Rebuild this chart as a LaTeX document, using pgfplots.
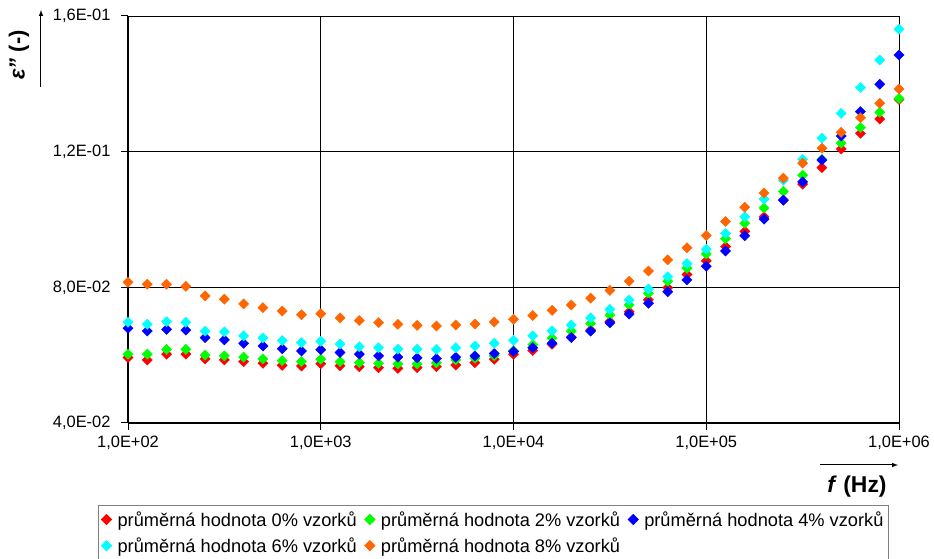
\documentclass[border=0pt]{standalone}
\usepackage{fontspec}
\setmainfont{Liberation Sans}
\usepackage{pgfplots}
\pgfplotsset{compat=1.18}
\usepackage{pgfplotstable}
\definecolor{cR}{RGB}{255,0,0}
\definecolor{cG}{RGB}{0,255,0}
\definecolor{cB}{RGB}{0,0,255}
\definecolor{cC}{RGB}{0,255,255}
\definecolor{cO}{RGB}{255,102,0}
\pgfplotstableread{
f r g b c o
100 0.0593 0.0603 0.0679 0.0697 0.0815
125.89 0.0586 0.0603 0.0671 0.0691 0.0809
158.49 0.0603 0.0617 0.0676 0.0699 0.0809
199.53 0.0603 0.0617 0.0674 0.0697 0.0803
251.19 0.0589 0.0600 0.0652 0.0671 0.0775
316.23 0.0586 0.0598 0.0645 0.0669 0.0765
398.11 0.0581 0.0594 0.0635 0.0657 0.0751
501.19 0.0576 0.0589 0.0627 0.0651 0.0740
630.96 0.0570 0.0584 0.0619 0.0643 0.0730
794.33 0.0568 0.0581 0.0612 0.0637 0.0719
1000 0.0575 0.0588 0.0616 0.0641 0.0722
1258.9 0.0569 0.0581 0.0608 0.0633 0.0710
1584.9 0.0566 0.0578 0.0603 0.0625 0.0702
1995.3 0.0563 0.0576 0.0598 0.0622 0.0696
2511.9 0.0561 0.0574 0.0594 0.0618 0.0691
3162.3 0.0563 0.0574 0.0592 0.0618 0.0688
3981.1 0.0566 0.0577 0.0590 0.0617 0.0686
5011.9 0.0571 0.0586 0.0594 0.0622 0.0689
6309.6 0.0578 0.0591 0.0598 0.0627 0.0692
7943.3 0.0588 0.0598 0.0605 0.0635 0.0698
10000 0.0603 0.0613 0.0611 0.0644 0.0706
12589 0.0614 0.0631 0.0622 0.0657 0.0717
15849 0.0632 0.0650 0.0635 0.0672 0.0732
19953 0.0653 0.0671 0.0652 0.0689 0.0748
25119 0.0674 0.0693 0.0671 0.0710 0.0768
31623 0.0699 0.0718 0.0695 0.0735 0.0791
39811 0.0728 0.0748 0.0721 0.0763 0.0818
50119 0.0763 0.0782 0.0753 0.0795 0.0848
63096 0.0799 0.0818 0.0787 0.0831 0.0881
79433 0.0838 0.0856 0.0822 0.0870 0.0917
100000 0.0878 0.0898 0.0862 0.0912 0.0953
125893 0.0920 0.0943 0.0907 0.0959 0.0994
158489 0.0965 0.0989 0.0952 0.1008 0.1036
199526 0.1008 0.1034 0.1001 0.1060 0.1078
251189 0.1057 0.1083 0.1057 0.1116 0.1122
316228 0.1104 0.1131 0.1111 0.1177 0.1166
398107 0.1153 0.1177 0.1175 0.1240 0.1210
501187 0.1208 0.1225 0.1246 0.1313 0.1257
630957 0.1254 0.1271 0.1318 0.1389 0.1300
794328 0.1296 0.1316 0.1399 0.1470 0.1343
1000000 0.1354 0.1357 0.1485 0.1561 0.1385
}\data
\begin{document}
\begin{tikzpicture}[x=1bp,y=1bp]
\path[use as bounding box] (-128,-136) rectangle (806,423);
\begin{axis}[
  at={(0,0)}, anchor=south west,
  scale only axis, width=771bp, height=407bp,
  xmode=log, xmin=100, xmax=1000000, ymin=0.04, ymax=0.16,
  xtick={100,1000,10000,100000,1000000},
  xticklabels={{1,0E+02},{1,0E+03},{1,0E+04},{1,0E+05},{1,0E+06}},
  ytick={0.04,0.08,0.12,0.16},
  yticklabels={{4,0E-02},{8,0E-02},{1,2E-01},{1,6E-01}},
  xminorticks=false, yminorticks=false,
  axis x line*=bottom, axis y line*=left,
  axis line style={black, line width=1.6bp},
  grid=major, major grid style={black, line width=0.9bp},
  tick align=outside, major tick length=7bp,
  tick style={black, line width=1bp},
  ticklabel style={font=\fontsize{16.5}{19}\selectfont},
  yticklabel style={xshift=-7bp},
  xticklabel style={yshift=-3bp},
  clip=false,
  legend columns=3,
  legend style={at={(-0.0389,-0.2015)}, anchor=north west, draw=gray, line width=0.8bp,
    font=\fontsize{18.3}{21}\selectfont, inner xsep=3bp, inner ysep=4bp,
    row sep=6bp,
    /tikz/every odd column/.append style={column sep=4bp},
    /tikz/every even column/.append style={column sep=6bp}},
  legend cell align=left,
]
\addplot[only marks, mark=square*, mark size=3.6bp, color=cR, mark options={rotate=45}] table[x=f,y=r]{\data};
\addlegendentry{průměrná hodnota 0\% vzorků}
\addplot[only marks, mark=square*, mark size=3.6bp, color=cG, mark options={rotate=45}] table[x=f,y=g]{\data};
\addlegendentry{průměrná hodnota 2\% vzorků}
\addplot[only marks, mark=square*, mark size=3.6bp, color=cB, mark options={rotate=45}] table[x=f,y=b]{\data};
\addlegendentry{průměrná hodnota 4\% vzorků}
\addplot[only marks, mark=square*, mark size=3.6bp, color=cC, mark options={rotate=45}] table[x=f,y=c]{\data};
\addlegendentry{průměrná hodnota 6\% vzorků}
\addplot[only marks, mark=square*, mark size=3.6bp, color=cO, mark options={rotate=45}] table[x=f,y=o]{\data};
\addlegendentry{průměrná hodnota 8\% vzorků}
\end{axis}
\draw[-latex, line width=1bp] (-87,336) -- (-87,413);
\node[rotate=90, font=\bfseries\fontsize{22}{24}\selectfont] at (-109,368) {\textit{ε''} (-)};
\draw[-latex, line width=1bp] (692,-42) -- (770,-42);
\node[font=\bfseries\fontsize{23}{25}\selectfont] at (729,-64) {\textit{f} (Hz)};
\end{tikzpicture}
\end{document}
